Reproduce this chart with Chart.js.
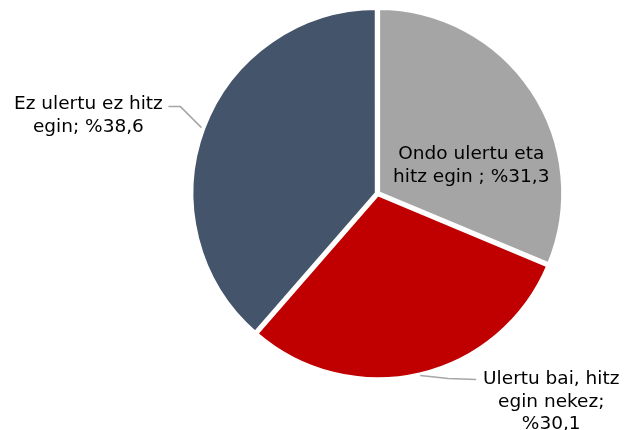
<!DOCTYPE html>
<html>
<head>
<meta charset="utf-8">
<script src="https://cdn.jsdelivr.net/npm/chart.js@4"></script>
<style>
  html, body { margin: 0; padding: 0; background: #fff; }
  #wrap { width: 626px; height: 430px; position: relative; }
</style>
</head>
<body>
<div id="wrap"><canvas id="Pie"></canvas></div>
<script>
// data
var categories = ['Ondo ulertu eta hitz egin ', 'Ulertu bai, hitz egin nekez', 'Ez ulertu ez hitz egin'];
var values = [31.3, 30.1, 38.6];
var labelLines = [
  ['Ondo ulertu eta', 'hitz egin ; %31,3'],
  ['Ulertu bai, hitz', 'egin nekez;', '%30,1'],
  ['Ez ulertu ez hitz', 'egin; %38,6']
];
var colors = ['#A5A5A5', '#C00000', '#44546A'];

var FONT = '18.5px "DejaVu Sans", Verdana, sans-serif';
var LINE_H = 22.5;

function drawLines(c, lines, cx, cy) {
  // cy = middle of first line
  for (var i = 0; i < lines.length; i++) {
    c.fillText(lines[i], cx, cy + i * LINE_H);
  }
}

var pieLabels = {
  id: 'pieLabels',
  afterDraw: function(chart) {
    var c = chart.ctx;
    var arcs = chart.getDatasetMeta(0).data;
    c.save();
    c.font = FONT;
    c.fillStyle = '#000';
    c.textAlign = 'center';
    c.textBaseline = 'middle';
    c.strokeStyle = '#A6A6A6';
    c.lineWidth = 1.5;

    // slice 0: label inside the slice
    var a0 = arcs[0];
    var ang = -Math.PI / 2 + 73 * Math.PI / 180;
    var px = a0.x + Math.cos(ang) * a0.outerRadius * 0.53;
    var py = a0.y + Math.sin(ang) * a0.outerRadius * 0.53;
    drawLines(c, labelLines[0], px, py - LINE_H / 2 + 1);

    // slice 1: leader line to the bottom right
    var a1 = arcs[1];
    var m1 = (a1.startAngle + a1.endAngle) / 2;
    var r1 = a1.outerRadius + 3;
    var x0 = a1.x + Math.cos(m1) * r1, y0 = a1.y + Math.sin(m1) * r1;
    c.beginPath();
    c.moveTo(x0, y0 - 1);
    c.lineTo(x0 + 28, y0 + 2);
    c.lineTo(x0 + 56, y0 + 3);
    c.stroke();
    drawLines(c, labelLines[1], x0 + 131, y0 + 3);

    // slice 2: leader line to the upper left
    var a2 = arcs[2];
    var m2 = (a2.startAngle + a2.endAngle) / 2;
    var r2 = a2.outerRadius + 3;
    var bx = a2.x + Math.cos(m2) * r2, by = a2.y + Math.sin(m2) * r2;
    c.beginPath();
    c.moveTo(bx, by);
    c.lineTo(bx - 21, by - 21);
    c.lineTo(bx - 33, by - 21);
    c.stroke();
    drawLines(c, labelLines[2], bx - 113, by - 23);

    c.restore();
  }
};

var ctx = document.getElementById('Pie').getContext('2d');
var myChart = new Chart(ctx, {
  type: 'pie',
  data: {
    labels: categories,
    datasets: [{
      data: values,
      backgroundColor: colors,
      borderColor: '#ffffff',
      borderWidth: 4,
      hoverBorderWidth: 4,
      offset: 3,
      hoverOffset: 0
    }]
  },
  options: {
    responsive: true,
    maintainAspectRatio: false,
    devicePixelRatio: 1,
    animation: false,
    layout: { padding: { left: 189, right: 60, top: 5, bottom: 48 } },
    plugins: {
      legend: { display: false },
      tooltip: { enabled: false },
      title: { display: false }
    }
  },
  plugins: [pieLabels]
});
</script>
</body>
</html>
